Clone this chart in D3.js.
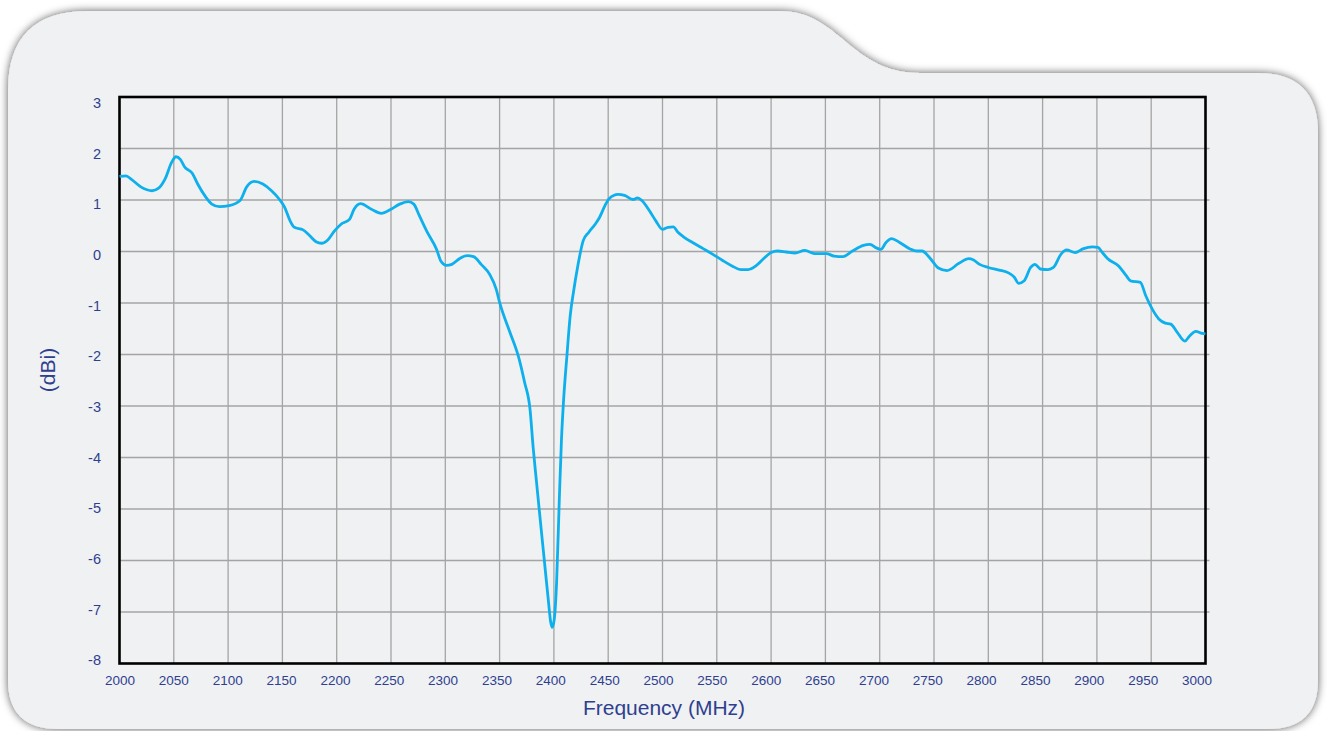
<!DOCTYPE html>
<html lang="en">
<head>
    <meta charset="UTF-8">
    <title>Gain vs Frequency</title>
    <style>
        body {
            margin: 0;
            background: #fff;
            font-family: "Liberation Sans", Arial, sans-serif;
        }
        .grid line {
            stroke: #a4a4a4;
            stroke-width: 1.3;
        }
        .tick-label {
            fill: #2f3f8f;
        }
    </style>
</head>
<body>
    <svg width="1327" height="731"></svg>
    <script src="https://d3js.org/d3.v7.min.js"></script>
    <script>
        // frequency (MHz) and gain (dBi)
        const freq = [
            2000, 2006, 2011, 2020, 2030, 2036, 2042, 2048, 2052, 2056, 2060, 2067, 2072, 2079, 2085, 2092,
            2101, 2111, 2117, 2124, 2132, 2140, 2147, 2152, 2157, 2161, 2169, 2175, 2181, 2186, 2192, 2198,
            2204, 2212, 2216, 2222, 2232, 2241, 2250, 2258, 2266, 2271, 2276, 2283, 2292, 2296, 2301, 2306,
            2313, 2320, 2326, 2333, 2341, 2347, 2350, 2359, 2368, 2373, 2378, 2381, 2384, 2387, 2391, 2395,
            2397, 2398.5, 2400.4, 2402.5, 2405, 2407, 2409, 2412, 2415, 2418, 2422, 2427, 2432, 2438, 2442,
            2447, 2451, 2459, 2465, 2473, 2477, 2481, 2488, 2494, 2500, 2505, 2510, 2514, 2519, 2528, 2537,
            2546, 2555, 2564, 2572, 2579, 2586, 2593, 2600, 2606, 2614, 2622, 2631, 2640, 2651, 2658, 2666,
            2675, 2685, 2691, 2697, 2701, 2706, 2711, 2718, 2728, 2734, 2739, 2746, 2754, 2762, 2773, 2782,
            2786, 2792, 2800, 2810, 2819, 2824, 2828, 2833, 2839, 2843, 2848, 2855, 2860, 2867, 2872, 2880,
            2887, 2896, 2901, 2905, 2910, 2920, 2927, 2931, 2940, 2945, 2951, 2957, 2963, 2968, 2974, 2981,
            2985, 2991, 2997, 3000
        ];
        const gain = [
            1.46, 1.47, 1.40, 1.25, 1.18, 1.23, 1.41, 1.73, 1.84, 1.79, 1.64, 1.52, 1.31, 1.07, 0.92, 0.87,
            0.89, 0.99, 1.25, 1.36, 1.31, 1.18, 1.02, 0.86, 0.60, 0.47, 0.42, 0.31, 0.19, 0.16, 0.23, 0.40,
            0.53, 0.63, 0.82, 0.93, 0.82, 0.74, 0.82, 0.92, 0.97, 0.92, 0.70, 0.39, 0.04, -0.19, -0.27, -0.25,
            -0.14, -0.08, -0.10, -0.25, -0.45, -0.74, -0.99, -1.54, -2.09, -2.54, -3.06, -3.83, -4.48, -5.12, -5.96, -6.80,
            -7.19, -7.30, -7.13, -6.42, -4.80, -3.64, -2.86, -2.02, -1.25, -0.79, -0.28, 0.21, 0.37, 0.53, 0.66,
            0.89, 1.03, 1.11, 1.09, 1.01, 1.04, 0.99, 0.79, 0.59, 0.43, 0.47, 0.48, 0.38, 0.29, 0.17, 0.06,
            -0.05, -0.17, -0.28, -0.35, -0.35, -0.28, -0.14, -0.02, 0.01, -0.01, -0.03, 0.02, -0.04, -0.04, -0.09, -0.10,
            0.01, 0.12, 0.14, 0.07, 0.04, 0.18, 0.25, 0.18, 0.05, 0.01, 0.01, -0.12, -0.32, -0.37, -0.23, -0.14,
            -0.16, -0.25, -0.31, -0.36, -0.42, -0.50, -0.62, -0.57, -0.31, -0.25, -0.34, -0.35, -0.31, -0.05, 0.03, -0.02,
            0.05, 0.09, 0.08, -0.02, -0.14, -0.28, -0.47, -0.57, -0.60, -0.86, -1.12, -1.31, -1.39, -1.41, -1.57, -1.74,
            -1.65, -1.55, -1.59, -1.60
        ];
        const xTicks = d3.range(2000, 3001, 50);
        const yTicks = d3.range(3, -9, -1);

        const svg = d3.select("svg");

        // card behind the chart
        const defs = svg.append("defs");
        const shadow = defs.append("filter")
            .attr("id", "shadow")
            .attr("x", "-5%").attr("y", "-10%")
            .attr("width", "110%").attr("height", "120%");
        shadow.append("feDropShadow")
            .attr("dx", 0).attr("dy", 0)
            .attr("stdDeviation", 4.5)
            .attr("flood-color", "#000")
            .attr("flood-opacity", 0.65);

        const card = d3.path();
        card.moveTo(8, 680);
        card.lineTo(8, 90);
        card.quadraticCurveTo(8, 11, 88, 11);
        card.lineTo(780, 11);
        card.bezierCurveTo(840, 11, 850, 73, 920, 73);
        card.lineTo(1258, 73);
        card.quadraticCurveTo(1318, 73, 1318, 133);
        card.lineTo(1318, 680);
        card.quadraticCurveTo(1318, 729, 1268, 729);
        card.lineTo(58, 729);
        card.quadraticCurveTo(8, 729, 8, 680);
        card.closePath();

        svg.append("path")
            .attr("d", card.toString())
            .attr("fill", "#f0f1f3")
            .attr("filter", "url(#shadow)");

        const plot = {left: 119.5, top: 97, right: 1205.5, bottom: 663.5};

        const x = d3.scaleLinear().domain([2000, 3000]).range([plot.left, plot.right]);
        const y = d3.scaleLinear().domain([3, -8]).range([plot.top, plot.bottom]);
        // labels sit on a slightly tighter spacing than the grid
        const xLab = d3.scaleLinear().domain([2000, 3000]).range([120, 1197]);
        const yLab = d3.scaleLinear().domain([3, -8]).range([103, 660]);

        const grid = svg.append("g").attr("class", "grid");
        grid.selectAll(".v")
            .data(xTicks.slice(1, -1))
            .enter().append("line")
            .attr("x1", d => x(d)).attr("x2", d => x(d))
            .attr("y1", plot.top).attr("y2", plot.bottom);
        grid.selectAll(".h")
            .data(yTicks.slice(1, -1))
            .enter().append("line")
            .attr("x1", plot.left).attr("x2", plot.right + 4)
            .attr("y1", d => y(d)).attr("y2", d => y(d));

        svg.append("rect")
            .attr("x", plot.left)
            .attr("y", plot.top)
            .attr("width", plot.right - plot.left)
            .attr("height", plot.bottom - plot.top)
            .attr("fill", "none")
            .attr("stroke", "#000")
            .attr("stroke-width", 2.6);

        const line = d3.line()
            .x((d, i) => x(freq[i]))
            .y(d => y(d))
            .curve(d3.curveMonotoneX);

        svg.append("path")
            .datum(gain)
            .attr("d", line)
            .attr("fill", "none")
            .attr("stroke", "#0db0ec")
            .attr("stroke-width", 2.8)
            .attr("stroke-linejoin", "round");

        svg.selectAll(".ylab")
            .data(yTicks)
            .enter().append("text")
            .attr("class", "tick-label")
            .attr("x", 101)
            .attr("y", d => yLab(d))
            .attr("dy", "0.36em")
            .attr("text-anchor", "end")
            .attr("font-size", 14.5)
            .text(d => d);

        svg.selectAll(".xlab")
            .data(xTicks)
            .enter().append("text")
            .attr("class", "tick-label")
            .attr("x", d => xLab(d))
            .attr("y", 685)
            .attr("text-anchor", "middle")
            .attr("font-size", 13.5)
            .text(d => d);

        svg.append("text")
            .attr("class", "tick-label")
            .attr("x", 664)
            .attr("y", 715)
            .attr("text-anchor", "middle")
            .attr("font-size", 21)
            .text("Frequency (MHz)");

        svg.append("text")
            .attr("class", "tick-label")
            .attr("transform", "translate(55,370) rotate(-90)")
            .attr("text-anchor", "middle")
            .attr("font-size", 21)
            .text("(dBi)");
    </script>
</body>
</html>
